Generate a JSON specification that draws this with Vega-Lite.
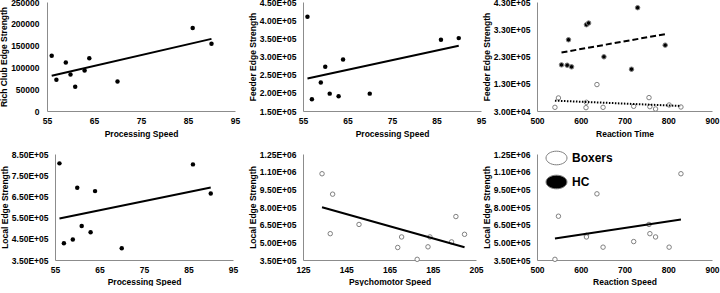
{
  "$schema": "https://vega.github.io/schema/vega-lite/v6.json",
  "padding": {"left": -1, "top": -2, "right": 0, "bottom": 0},
  "background": "white",
  "datasets": {
    "hc": [
      {"ps": 56, "rich": 126500, "feeder": 409500, "local": 805800},
      {"ps": 57, "rich": 71600, "feeder": 182200, "local": 428900},
      {"ps": 59, "rich": 111300, "feeder": 228200, "local": 446200},
      {"ps": 60, "rich": 83800, "feeder": 271500, "local": 690600},
      {"ps": 61, "rich": 55600, "feeder": 197800, "local": 510900},
      {"ps": 63, "rich": 93000, "feeder": 190500, "local": 480900},
      {"ps": 64, "rich": 121200, "feeder": 291700, "local": 674900},
      {"ps": 70, "rich": 67800, "feeder": 197800, "local": 405200},
      {"ps": 86, "rich": 190500, "feeder": 346000, "local": 801000},
      {"ps": 90, "rich": 154000, "feeder": 350600, "local": 663800}
    ],
    "rt_feeder": [
      {"group": "HC", "rt": 556, "feeder": 199300},
      {"group": "HC", "rt": 572, "feeder": 291400},
      {"group": "HC", "rt": 569, "feeder": 198100},
      {"group": "HC", "rt": 579, "feeder": 192000},
      {"group": "HC", "rt": 613, "feeder": 346600},
      {"group": "HC", "rt": 618, "feeder": 352700},
      {"group": "HC", "rt": 653, "feeder": 228800},
      {"group": "HC", "rt": 716, "feeder": 183400},
      {"group": "HC", "rt": 730, "feeder": 409100},
      {"group": "HC", "rt": 793, "feeder": 271700},
      {"group": "Boxers", "rt": 541, "feeder": 43500},
      {"group": "Boxers", "rt": 549, "feeder": 77900},
      {"group": "Boxers", "rt": 613, "feeder": 61900},
      {"group": "Boxers", "rt": 612, "feeder": 42300},
      {"group": "Boxers", "rt": 637, "feeder": 127000},
      {"group": "Boxers", "rt": 651, "feeder": 43500},
      {"group": "Boxers", "rt": 721, "feeder": 47200},
      {"group": "Boxers", "rt": 756, "feeder": 79100},
      {"group": "Boxers", "rt": 758, "feeder": 46000},
      {"group": "Boxers", "rt": 771, "feeder": 37400},
      {"group": "Boxers", "rt": 802, "feeder": 52100},
      {"group": "Boxers", "rt": 829, "feeder": 44700}
    ],
    "box_psy": [
      {"group": "Boxers", "psy": 133.8, "local": 1082300},
      {"group": "Boxers", "psy": 138.7, "local": 909000},
      {"group": "Boxers", "psy": 137.6, "local": 573600},
      {"group": "Boxers", "psy": 150.9, "local": 651900},
      {"group": "Boxers", "psy": 168.8, "local": 456200},
      {"group": "Boxers", "psy": 170.6, "local": 545700},
      {"group": "Boxers", "psy": 177.8, "local": 355600},
      {"group": "Boxers", "psy": 182.8, "local": 461800},
      {"group": "Boxers", "psy": 183.7, "local": 545700},
      {"group": "Boxers", "psy": 193.7, "local": 503700},
      {"group": "Boxers", "psy": 195.7, "local": 718900},
      {"group": "Boxers", "psy": 199.7, "local": 568000}
    ],
    "box_rs": [
      {"group": "Boxers", "rs": 541, "local": 355600},
      {"group": "Boxers", "rs": 549, "local": 721700},
      {"group": "Boxers", "rs": 613, "local": 559600},
      {"group": "Boxers", "rs": 613, "local": 545700},
      {"group": "Boxers", "rs": 637, "local": 911800},
      {"group": "Boxers", "rs": 651, "local": 459000},
      {"group": "Boxers", "rs": 721, "local": 506500},
      {"group": "Boxers", "rs": 756, "local": 651900},
      {"group": "Boxers", "rs": 758, "local": 573600},
      {"group": "Boxers", "rs": 771, "local": 545700},
      {"group": "Boxers", "rs": 802, "local": 459000},
      {"group": "Boxers", "rs": 829, "local": 1082300}
    ],
    "t_rich": [{"x": 56, "y": 80800}, {"x": 90, "y": 165400}],
    "t_feed": [{"x": 56, "y": 239200}, {"x": 90, "y": 329400}],
    "t_rt_hc": [{"x": 556, "y": 244700}, {"x": 793, "y": 312200}],
    "t_rt_box": [{"x": 541, "y": 68000}, {"x": 829, "y": 48400}],
    "t_local": [{"x": 56, "y": 545500}, {"x": 90, "y": 692200}],
    "t_psy": [{"x": 133.8, "y": 797200}, {"x": 199.7, "y": 459000}],
    "t_rs": [{"x": 541, "y": 531700}, {"x": 829, "y": 693800}]
  },
  "vconcat": [
    {
      "hconcat": [
        {
          "width": 200, "height": 109,
          "layer": [
            {
              "data": {"name": "hc"},
              "mark": {"type": "circle", "color": "black", "size": 20, "opacity": 1},
              "encoding": {
                "x": {"field": "ps", "type": "quantitative", "scale": {"domain": [55, 95], "range": [0, 188], "nice": false, "zero": false}, "axis": {"values": [55, 65, 75, 85, 95], "tickCount": 20, "labelOverlap": false, "title": "Processing Speed"}},
                "y": {"field": "rich", "type": "quantitative", "scale": {"domain": [0, 250000], "nice": false}, "axis": {"values": [0, 50000, 100000, 150000, 200000, 250000], "tickCount": 20, "labelOverlap": false, "format": "d", "title": "Rich Club Edge Strength", "labelPadding": 8}}
              }
            },
            {
              "data": {"name": "t_rich"},
              "mark": {"type": "line", "color": "black", "strokeWidth": 2},
              "encoding": {"x": {"field": "x", "type": "quantitative"}, "y": {"field": "y", "type": "quantitative"}}
            }
          ]
        },
        {
          "width": 178, "height": 109,
          "layer": [
            {
              "data": {"name": "hc"},
              "mark": {"type": "circle", "color": "black", "size": 20, "opacity": 1},
              "encoding": {
                "x": {"field": "ps", "type": "quantitative", "scale": {"domain": [55, 95], "nice": false, "zero": false}, "axis": {"values": [55, 65, 75, 85, 95], "tickCount": 20, "labelOverlap": false, "title": "Processing Speed"}},
                "y": {"field": "feeder", "type": "quantitative", "scale": {"domain": [150000, 450000], "nice": false, "zero": false}, "axis": {"values": [150000, 200000, 250000, 300000, 350000, 400000, 450000], "tickCount": 20, "labelOverlap": false, "labelExpr": "replace(upper(format(datum.value, '.2e')), 'E+', 'E+0')", "title": "Feeder Edge Strength"}}
              }
            },
            {
              "data": {"name": "t_feed"},
              "mark": {"type": "line", "color": "black", "strokeWidth": 2},
              "encoding": {"x": {"field": "x", "type": "quantitative"}, "y": {"field": "y", "type": "quantitative"}}
            }
          ]
        },
        {
          "width": 175, "height": 109,
          "layer": [
            {
              "data": {"name": "rt_feeder"},
              "mark": {"type": "circle", "size": 20, "stroke": "#808080", "strokeWidth": 1, "opacity": 1},
              "encoding": {
                "x": {"field": "rt", "type": "quantitative", "scale": {"domain": [500, 900], "nice": false, "zero": false}, "axis": {"values": [500, 600, 700, 800, 900], "tickCount": 20, "labelOverlap": false, "title": "Reaction Time"}},
                "y": {"field": "feeder", "type": "quantitative", "scale": {"domain": [30000, 430000], "nice": false, "zero": false}, "axis": {"values": [30000, 130000, 230000, 330000, 430000], "tickCount": 20, "labelOverlap": false, "labelExpr": "replace(upper(format(datum.value, '.2e')), 'E+', 'E+0')", "title": "Feeder Edge Strength"}},
                "fill": {"field": "group", "type": "nominal", "scale": {"domain": ["Boxers", "HC"], "range": ["white", "black"]}, "legend": null}
              }
            },
            {
              "data": {"name": "t_rt_hc"},
              "mark": {"type": "line", "color": "black", "strokeWidth": 2, "strokeDash": [6, 3]},
              "encoding": {"x": {"field": "x", "type": "quantitative"}, "y": {"field": "y", "type": "quantitative"}}
            },
            {
              "data": {"name": "t_rt_box"},
              "mark": {"type": "line", "color": "black", "strokeWidth": 2, "strokeDash": [1.5, 1.5]},
              "encoding": {"x": {"field": "x", "type": "quantitative"}, "y": {"field": "y", "type": "quantitative"}}
            }
          ]
        }
      ],
      "spacing": 56,
      "bounds": "flush",
      "resolve": {"scale": {"fill": "independent"}, "legend": {"fill": "independent"}}
    },
    {
      "hconcat": [
        {
          "width": 195, "height": 106,
          "layer": [
            {
              "data": {"name": "hc"},
              "mark": {"type": "circle", "color": "black", "size": 20, "opacity": 1},
              "encoding": {
                "x": {"field": "ps", "type": "quantitative", "scale": {"domain": [55, 95], "range": [8, 186], "nice": false, "zero": false}, "axis": {"values": [55, 65, 75, 85, 95], "tickCount": 20, "labelOverlap": false, "title": "Processing Speed", "titlePadding": 4}},
                "y": {"field": "local", "type": "quantitative", "scale": {"domain": [350000, 850000], "nice": false, "zero": false}, "axis": {"values": [350000, 450000, 550000, 650000, 750000, 850000], "tickCount": 20, "offset": -8, "labelOverlap": false, "labelExpr": "replace(upper(format(datum.value, '.2e')), 'E+', 'E+0')", "title": "Local Edge Strength"}}
              }
            },
            {
              "data": {"name": "t_local"},
              "mark": {"type": "line", "color": "black", "strokeWidth": 2},
              "encoding": {"x": {"field": "x", "type": "quantitative"}, "y": {"field": "y", "type": "quantitative"}}
            }
          ]
        },
        {
          "width": 173, "height": 106,
          "layer": [
            {
              "data": {"name": "box_psy"},
              "mark": {"type": "circle", "size": 20, "fill": "white", "stroke": "#808080", "strokeWidth": 1, "opacity": 1},
              "encoding": {
                "x": {"field": "psy", "type": "quantitative", "scale": {"domain": [125, 205], "nice": false, "zero": false}, "axis": {"values": [125, 145, 165, 185, 205], "tickCount": 20, "labelOverlap": false, "title": "Psychomotor Speed", "titlePadding": 4}},
                "y": {"field": "local", "type": "quantitative", "scale": {"domain": [350000, 1250000], "nice": false, "zero": false}, "axis": {"values": [350000, 500000, 650000, 800000, 950000, 1100000, 1250000], "tickCount": 20, "labelOverlap": false, "labelExpr": "replace(upper(format(datum.value, '.2e')), 'E+', 'E+0')", "title": "Local Edge Strength"}}
              }
            },
            {
              "data": {"name": "t_psy"},
              "mark": {"type": "line", "color": "black", "strokeWidth": 2},
              "encoding": {"x": {"field": "x", "type": "quantitative"}, "y": {"field": "y", "type": "quantitative"}}
            }
          ]
        },
        {
          "width": 175, "height": 106,
          "layer": [
            {
              "data": {"name": "box_rs"},
              "mark": {"type": "circle", "size": 20, "stroke": "#808080", "strokeWidth": 1, "opacity": 1},
              "encoding": {
                "x": {"field": "rs", "type": "quantitative", "scale": {"domain": [500, 900], "nice": false, "zero": false}, "axis": {"values": [500, 600, 700, 800, 900], "tickCount": 20, "labelOverlap": false, "title": "Reaction Speed", "titlePadding": 4}},
                "y": {"field": "local", "type": "quantitative", "scale": {"domain": [350000, 1250000], "nice": false, "zero": false}, "axis": {"values": [350000, 500000, 650000, 800000, 950000, 1100000, 1250000], "tickCount": 20, "labelOverlap": false, "labelExpr": "replace(upper(format(datum.value, '.2e')), 'E+', 'E+0')", "title": "Local Edge Strength"}},
                "fill": {"field": "group", "type": "nominal", "scale": {"domain": ["Boxers", "HC"], "range": ["white", "black"]},
                  "legend": {"orient": "none", "legendX": 8.5, "legendY": -7, "title": null, "padding": 0,
                    "symbolType": "M-1,0A1,0.65,0,1,1,1,0A1,0.65,0,1,1,-1,0Z", "symbolSize": 441,
                    "symbolStrokeColor": "#808080", "symbolStrokeWidth": 1, "symbolOpacity": 1,
                    "labelFont": "Liberation Sans", "labelFontSize": 12, "labelFontWeight": "bold", "labelColor": "black",
                    "labelOffset": 4.5, "rowPadding": 4}}
              }
            },
            {
              "data": {"name": "t_rs"},
              "mark": {"type": "line", "color": "black", "strokeWidth": 2},
              "encoding": {"x": {"field": "x", "type": "quantitative"}, "y": {"field": "y", "type": "quantitative"}}
            }
          ]
        }
      ],
      "spacing": 61,
      "bounds": "flush",
      "resolve": {"scale": {"fill": "independent"}, "legend": {"fill": "independent"}}
    }
  ],
  "spacing": 9,
  "resolve": {"scale": {"fill": "independent"}, "legend": {"fill": "independent"}},
  "config": {
    "view": {"stroke": null},
    "font": "Liberation Sans",
    "axis": {
      "domainColor": "#8c8c8c", "domainWidth": 1, "ticks": false, "grid": false,
      "labelFont": "Liberation Sans", "labelFontSize": 8.5, "labelFontWeight": "bold", "labelColor": "black",
      "titleFont": "Liberation Sans", "titleFontSize": 8.5, "titleFontWeight": "bold", "titleColor": "black",
      "labelFlush": false, "labelOverlap": false
    },
    "axisX": {"labelPadding": 5, "titlePadding": 5},
    "axisY": {"labelPadding": 7, "titlePadding": 2}
  }
}
